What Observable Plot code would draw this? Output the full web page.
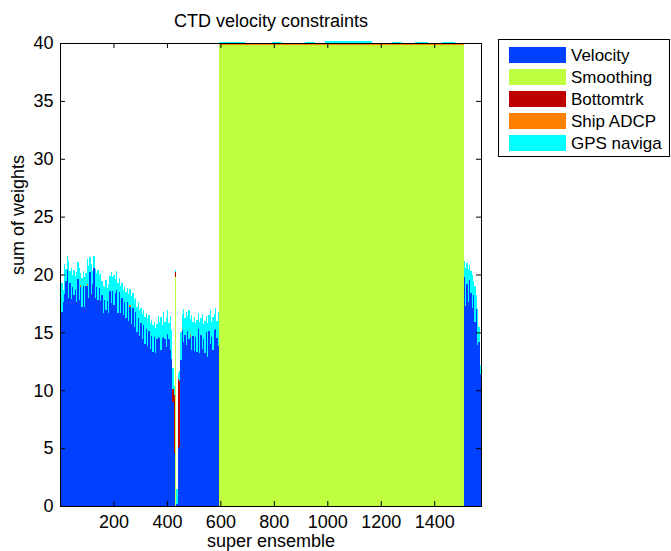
<!DOCTYPE html>
<html>
<head>
<meta charset="utf-8">
<script src="https://cdn.jsdelivr.net/npm/d3@7"></script>
<script src="https://cdn.jsdelivr.net/npm/@observablehq/plot@0.6"></script>
<style>
  body { margin: 0; background: #fff; }
  svg { display: block; }
</style>
</head>
<body>
<div id="chart"></div>
<script>
// Constraint sources, bottom to top of each stacked bar
const seriesNames = ["Velocity", "Smoothing", "Bottomtrk", "Ship ADCP", "GPS naviga"];
const seriesColors = ["#0040ff", "#bfff40", "#bf0000", "#ff8000", "#00ffff"];

const xTicks = [200, 400, 600, 800, 1000, 1200, 1400];
const yTicks = [0, 5, 10, 15, 20, 25, 30, 35, 40];

// Ensembles 0–595, in bins of 5 super ensembles
const binWidth = 5;
const leftVelocity = [
  18.0, 16.8, 17.6, 18.3, 19.4, 20.4, 18.0, 19.3, 17.9, 18.9,
  18.2, 18.7, 17.6, 19.6, 17.8, 18.9, 17.2, 19.0, 17.2, 19.0,
  19.0, 18.0, 20.2, 18.3, 19.2, 20.6, 18.0, 18.9, 17.8, 18.8,
  17.7, 18.2, 16.7, 17.8, 16.9, 17.7, 16.7, 18.6, 17.5, 18.6,
  17.4, 18.4, 18.7, 16.7, 18.5, 16.7, 18.0, 16.5, 17.6, 16.2,
  17.6, 16.0, 17.2, 15.7, 17.1, 15.5, 16.8, 15.0, 16.2, 14.7,
  15.8, 14.4, 15.6, 14.0, 15.3, 13.8, 15.1, 13.6, 14.7, 13.3,
  14.6, 13.2, 14.4, 14.6, 14.5, 13.5, 14.5, 14.6, 14.4, 13.7,
  14.9, 14.4, 13.5, 12.7, 9.0, 4.6, 0.0, 0.2, 5.0, 5.2,
  12.6, 15.2, 14.2, 14.8, 13.9, 15.1, 14.4, 14.6, 13.5, 14.7,
  13.4, 14.6, 13.3, 15.3, 13.2, 14.8, 13.6, 14.4, 13.2, 15.0,
  12.9, 15.1, 14.0, 14.6, 13.5, 15.2, 15.3, 14.5, 13.8
];
const leftGps = [
  1.0, 2.5, 1.1, 2.6, 1.1, 1.2, 3.2, 1.0, 2.7, 1.1,
  2.2, 1.2, 2.6, 1.5, 2.8, 1.1, 2.5, 1.3, 2.6, 1.1,
  2.2, 2.7, 1.3, 2.6, 1.1, 1.0, 2.5, 1.2, 2.6, 1.2,
  2.4, 1.2, 2.3, 1.1, 2.6, 1.1, 2.5, 1.3, 2.7, 1.2,
  2.6, 1.2, 1.6, 2.6, 1.2, 2.3, 1.3, 2.2, 1.3, 2.3,
  1.2, 2.3, 1.4, 2.4, 1.3, 2.3, 1.2, 2.2, 1.4, 2.2,
  1.3, 2.2, 1.3, 2.3, 1.4, 2.4, 1.4, 2.2, 1.4, 2.3,
  1.3, 2.2, 1.3, 1.8, 1.4, 2.8, 1.1, 2.2, 1.5, 2.5,
  2.0, 1.4, 2.9, 2.5, 1.8, 0.8, 0.2, 1.3, 0.5, 0.9,
  2.4, 1.4, 2.8, 1.4, 2.9, 1.3, 2.5, 1.4, 3.0, 1.2,
  2.9, 1.2, 2.8, 1.4, 2.7, 1.4, 3.0, 1.3, 2.8, 1.4,
  2.9, 1.4, 2.9, 1.3, 2.8, 1.4, 1.8, 1.5, 3.0
];
// Sparse entries in the left bins: [bin, weight]
const leftSmoothing = [[86, 19.8]];
const leftBottomtrk = [[84, 1.1], [85, 5.0], [86, 0.4], [88, 6.0], [89, 5.6]];
const leftShipAdcp = [[15, 0.15], [20, 0.15], [52, 0.15], [97, 0.15]];

// Ensembles 595–1510: smoothing only, in runs
const midEdges = [595, 691, 792, 830, 916, 953, 991, 1167, 1242, 1280, 1329, 1377, 1430, 1479, 1510];
const midSmoothing = [39.86, 39.86, 39.86, 39.86, 39.86, 39.86, 39.86, 39.86, 39.86, 39.86, 39.86, 39.86, 39.86, 39.86];
const midShipAdcp = [0.03, 0.03, 0.03, 0.03, 0.03, 0.03, 0.03, 0.03, 0.03, 0.03, 0.03, 0.03, 0.03, 0.03];
const midGps = [0.22, 0.05, 0.22, 0.05, 0.22, 0.05, 0.25, 0.05, 0.22, 0.05, 0.22, 0.05, 0.22, 0.05];

// Ensembles 1510–1575, in bins of 5
const rightStart = 1510;
const rightVelocity = [19.8, 17.3, 19.2, 17.6, 19.5, 18.4, 17.1, 18.2, 15.9, 17.0, 13.9, 14.2, 11.4];
const rightGps = [1.4, 3.3, 1.8, 2.9, 1.3, 1.9, 2.9, 1.2, 3.1, 1.2, 3.1, 1.3, 0.8];

// Long-format table for the stacked rects
const rows = [];
function addBin(x1, x2, values) {
  seriesNames.forEach((s, k) => rows.push({x1, x2, series: s, value: values[k]}));
}
const lookup = (pairs, i) => { const p = pairs.find(d => d[0] === i); return p ? p[1] : 0; };
leftVelocity.forEach((v, i) => {
  addBin(i * binWidth, (i + 1) * binWidth,
    [v, lookup(leftSmoothing, i), lookup(leftBottomtrk, i), lookup(leftShipAdcp, i), leftGps[i]]);
});
midSmoothing.forEach((s, i) => {
  addBin(midEdges[i], midEdges[i + 1], [0, s, 0, midShipAdcp[i], midGps[i]]);
});
rightVelocity.forEach((v, j) => {
  addBin(rightStart + j * binWidth, rightStart + (j + 1) * binWidth, [v, 0, 0, 0, rightGps[j]]);
});

const font = "'Liberation Sans', Arial, Helvetica, sans-serif";

const chart = Plot.plot({
  width: 671,
  height: 551,
  marginLeft: 60,
  marginRight: 190,
  marginTop: 43,
  marginBottom: 45,
  style: {fontFamily: font, fontSize: "18px", background: "#fff", color: "#000", overflow: "visible"},
  x: {domain: [0, 1575], axis: null},
  y: {domain: [0, 40], axis: null},
  color: {domain: seriesNames, range: seriesColors},
  marks: [
    Plot.rectY(rows, {x1: "x1", x2: "x2", y: "value", fill: "series", inset: 0, shapeRendering: "crispEdges"}),
    // inward tick marks on all four sides
    Plot.ruleX(xTicks, {x: d => d, y1: 0, y2: 0, insetTop: -5, stroke: "#000"}),
    Plot.ruleX(xTicks, {x: d => d, y1: 40, y2: 40, insetBottom: -5, stroke: "#000"}),
    Plot.ruleY(yTicks, {y: d => d, x1: 0, x2: 0, insetRight: -5, stroke: "#000"}),
    Plot.ruleY(yTicks, {y: d => d, x1: 1575, x2: 1575, insetLeft: -5, stroke: "#000"}),
    Plot.frame({stroke: "#000"}),
    // tick labels
    Plot.text(xTicks, {x: d => d, frameAnchor: "bottom", lineAnchor: "middle", dy: 16, text: d => String(d), fontSize: 18}),
    Plot.text(yTicks, {y: d => d, frameAnchor: "left", lineAnchor: "middle", dx: -7, textAnchor: "end", text: d => String(d), fontSize: 18}),
    // titles
    Plot.text(["CTD velocity constraints"], {frameAnchor: "top", lineAnchor: "middle", dy: -22, fontSize: 18}),
    Plot.text(["super ensemble"], {frameAnchor: "bottom", lineAnchor: "middle", dy: 35, fontSize: 18}),
    Plot.text(["sum of weights"], {frameAnchor: "left", lineAnchor: "middle", dx: -42, rotate: -90, fontSize: 18})
  ]
});

// Legend box drawn into the same SVG, using the plot's color scale
const color = chart.scale("color");
const svg = d3.select(chart);
const legend = svg.append("g")
  .attr("font-family", font).attr("font-size", 17).attr("text-anchor", "start");
legend.append("rect")
  .attr("x", 498.5).attr("y", 39.5).attr("width", 171).attr("height", 117)
  .attr("fill", "#fff").attr("stroke", "#000");
seriesNames.forEach((name, k) => {
  const cy = 55 + k * 22;
  legend.append("rect")
    .attr("x", 509).attr("y", cy - 8).attr("width", 57).attr("height", 16)
    .attr("fill", color.apply(name));
  legend.append("text")
    .attr("x", 571).attr("y", cy).attr("dy", "0.35em")
    .attr("fill", "#000").text(name);
});

document.getElementById("chart").appendChild(chart);
</script>
</body>
</html>
